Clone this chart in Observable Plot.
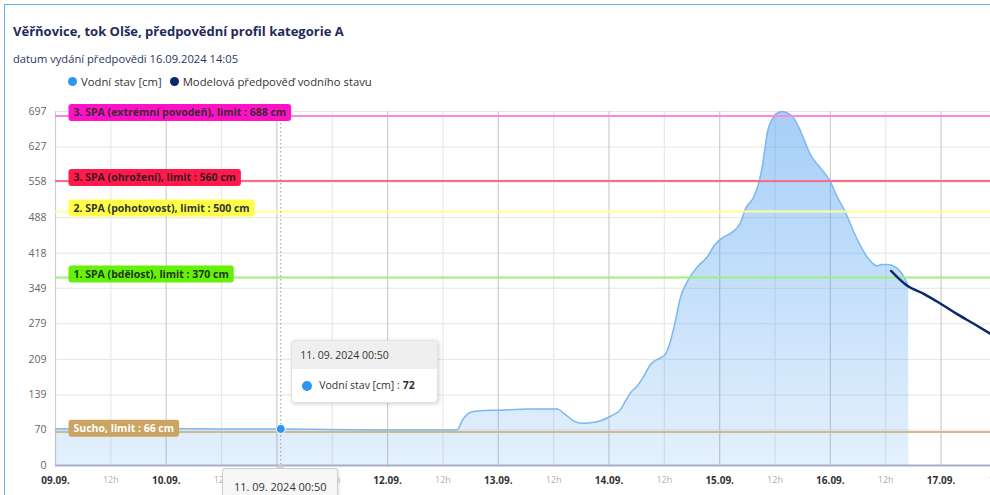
<!DOCTYPE html>
<html><head><meta charset="utf-8">
<script src="https://cdn.jsdelivr.net/npm/d3@7"></script>
<script src="https://cdn.jsdelivr.net/npm/@observablehq/plot@0.6"></script>
<style>
html,body{margin:0;padding:0;background:#fff;overflow:hidden;width:990px;height:495px;font-family:"Open Sans",sans-serif;}
#frame{position:absolute;left:4px;top:4px;width:1200px;height:800px;border:1px solid #6aaee8;box-sizing:border-box;pointer-events:none;z-index:9}
#title{position:absolute;left:13px;top:22px;font-size:13px;font-weight:700;color:#1f2a5c;white-space:nowrap}
#subtitle{position:absolute;left:13px;top:51px;font-size:11.2px;color:#2b3563;white-space:nowrap}
#legend{position:absolute;left:68px;top:74px;font-size:11.3px;color:#333;white-space:nowrap;display:flex;align-items:center}
#legend .item{display:flex;align-items:center;margin-right:8px}
#legend .sw{display:inline-block;width:9px;height:9px;border-radius:50%;margin-right:4px}
#chart{position:absolute;left:0;top:95px}
#tip{position:absolute;width:145px;background:#fff;border:1px solid #e2e2e2;border-radius:4px;box-shadow:1px 1px 4px rgba(0,0,0,0.18);font-size:10.5px;color:#333;overflow:hidden;z-index:5}
#tip .hd{background:#efefef;height:28px;line-height:28px;padding-left:8px}
#tip .bd{height:33px;line-height:33px;padding-left:10px;display:flex;align-items:center}
#tip .dot{display:inline-block;width:10px;height:10px;border-radius:50%;background:#2f95f0;margin-right:7px}
#tip b{margin-left:3px}
#xlab{position:absolute;width:114px;height:30px;background:#f6f6f6;border:1px solid #cfcfcf;border-radius:3px;box-shadow:1px 1px 3px rgba(0,0,0,0.12);font-size:11px;color:#333;text-align:center;line-height:36px;z-index:5}
#xlab:before{content:"";position:absolute;left:50%;top:-5px;margin-left:-5px;border-left:5px solid transparent;border-right:5px solid transparent;border-bottom:5px solid #cfcfcf}
</style></head>
<body>
<div id="frame"></div>
<div id="title">Věřňovice, tok Olše, předpovědní profil kategorie A</div>
<div id="subtitle">datum vydání předpovědi 16.09.2024 14:05</div>
<div id="legend"></div>
<div id="chart"></div>
<div id="tip"><div class="hd"></div><div class="bd"><span class="dot"></span><span class="nm"></span><b></b></div></div>
<div id="xlab"></div>
<script>
// ---------- data ----------
const seriesNames = ["Vodní stav [cm]", "Modelová předpověď vodního stavu"];
const waterTimes = [
"2024-09-09 00:00","2024-09-09 12:00","2024-09-10 00:00","2024-09-10 12:00","2024-09-11 00:50",
"2024-09-11 12:00","2024-09-12 00:00","2024-09-12 12:00","2024-09-12 15:05","2024-09-12 16:15",
"2024-09-12 18:20","2024-09-12 20:10","2024-09-13 00:00","2024-09-13 07:00","2024-09-13 12:45",
"2024-09-13 14:35","2024-09-13 16:20","2024-09-13 18:10","2024-09-13 20:00","2024-09-13 22:10",
"2024-09-14 00:20","2024-09-14 02:30","2024-09-14 03:35","2024-09-14 04:40","2024-09-14 06:05",
"2024-09-14 07:30","2024-09-14 09:00","2024-09-14 11:10","2024-09-14 12:15","2024-09-14 13:20",
"2024-09-14 14:25","2024-09-14 15:30","2024-09-14 16:55","2024-09-14 19:10","2024-09-14 21:15",
"2024-09-14 23:05","2024-09-15 00:55","2024-09-15 02:20","2024-09-15 04:30","2024-09-15 05:35",
"2024-09-15 07:25","2024-09-15 08:30","2024-09-15 09:15","2024-09-15 09:45","2024-09-15 10:20",
"2024-09-15 11:20","2024-09-15 12:20","2024-09-15 13:40","2024-09-15 14:40","2024-09-15 16:05",
"2024-09-15 17:30","2024-09-15 19:40","2024-09-15 21:50","2024-09-16 00:00","2024-09-16 01:25",
"2024-09-16 02:55","2024-09-16 05:50","2024-09-16 08:00","2024-09-16 10:10","2024-09-16 11:05",
"2024-09-16 12:20","2024-09-16 14:30","2024-09-16 15:55","2024-09-16 17:00"];
const waterValues = [
72,73,73,72,72,
71,70,70,70,90,
106,108,109,111,111,
100,88,83,84,88,
97,110,127,143,156,
175,199,212,219,245,
285,331,361,391,410,
436,450,457,478,505,
529,557,589,620,655,
681,693,697,694,684,
659,612,586,559,530,
505,445,410,393,396,
396,388,372,351];
const forecastTimes = ["2024-09-16 13:10","2024-09-16 14:30","2024-09-16 16:40","2024-09-16 20:15",
"2024-09-17 00:00","2024-09-17 03:30","2024-09-17 07:05","2024-09-17 10:45"];
const forecastValues = [383,371,354,338,318,298,279,259];
const limitValues = [688, 560, 500, 370, 66];
const limitLabels = ["3. SPA (extrémní povodeň), limit : 688 cm","3. SPA (ohrožení), limit : 560 cm",
"2. SPA (pohotovost), limit : 500 cm","1. SPA (bdělost), limit : 370 cm","Sucho, limit : 66 cm"];
const yTicks = [0,70,139,209,279,349,418,488,558,627,697];
const dayTicks = ["2024-09-09 00:00","2024-09-10 00:00","2024-09-11 00:00","2024-09-12 00:00","2024-09-13 00:00",
"2024-09-14 00:00","2024-09-15 00:00","2024-09-16 00:00","2024-09-17 00:00"];
const halfDayTicks = ["2024-09-09 12:00","2024-09-10 12:00","2024-09-11 12:00","2024-09-12 12:00","2024-09-13 12:00",
"2024-09-14 12:00","2024-09-15 12:00","2024-09-16 12:00","2024-09-17 12:00"];
const halfDayLabel = "12h";
const xDomain = ["2024-09-09 00:00","2024-09-17 10:43"];
const yDomain = [0, 697];
const tooltipIndex = 4;

// ---------- styles ----------
const limitLineColors = ["#ff86da","#ff6a84","#ffff99","#9ef07a","#d4b88c"];
const limitBoxColors = ["#ff12c6","#ff1a4a","#ffff48","#66f00a","#c9a462"];
const limitTextColors = ["#3a2a33","#3a1a22","#333","#1e3a10","#ffffff"];
const waterColor = "#7db8f0", dotColor = "#2f95f0", forecastColor = "#0c2a6b";

// ---------- build ----------
const parse = d3.utcParse("%Y-%m-%d %H:%M");
const water = waterTimes.map((t,i)=>({date:parse(t), value:waterValues[i]}));
const forecast = forecastTimes.map((t,i)=>({date:parse(t), value:forecastValues[i]}));
const limits = limitValues.map((v,i)=>({value:v, label:limitLabels[i]}));
const days = dayTicks.map(parse), halfDays = halfDayTicks.map(parse);
const x0 = parse(xDomain[0]);
const tipPt = water[tooltipIndex];
// the day label under the crosshair label is hidden by it in the reference
const dayLabelTicks = days.filter(d => Math.abs(d - tipPt.date) > 6 * 3600e3);

// legend
const lg = document.getElementById("legend");
[[seriesNames[0], dotColor],[seriesNames[1], forecastColor]].forEach(([n,c])=>{
  const it = document.createElement("span"); it.className="item";
  it.innerHTML = `<span class="sw" style="background:${c}"></span><span></span>`;
  it.lastChild.textContent = n; lg.appendChild(it);
});

const plot = Plot.plot({
  width: 990, height: 400,
  marginLeft: 55, marginRight: 0, marginTop: 16, marginBottom: 30,
  style: {fontFamily: "Open Sans", background: "transparent", overflow: "visible"},
  x: {type: "utc", domain: xDomain.map(parse), axis: null},
  y: {domain: yDomain, axis: null},
  marks: [
    Plot.ruleY(yTicks, {stroke: "#e6e6e6", strokeWidth: 1}),
    Plot.ruleX(halfDays.filter(d => d <= parse(xDomain[1])), {stroke: "#e8e8e8", strokeWidth: 1.2}),
    Plot.ruleX(days, {stroke: "#cdcdcd", strokeWidth: 1.2}),
    Plot.areaY(water, {x: "date", y: "value", fill: "url(#waterGrad)", curve: "monotone-x"}),
    Plot.lineY(water, {x: "date", y: "value", stroke: waterColor, strokeWidth: 1.5, curve: "monotone-x"}),
    ...limits.map((l,i) => Plot.ruleY([l], {y: "value", stroke: limitLineColors[i], strokeWidth: 2})),
    Plot.lineY(forecast, {x: "date", y: "value", stroke: forecastColor, strokeWidth: 2.5, curve: "monotone-x", clip: true}),
    Plot.ruleY([0], {stroke: "#a7aecb", strokeWidth: 2}),
    Plot.ruleX([tipPt], {x: "date", stroke: "#9a9a9a", strokeWidth: 1, strokeDasharray: "1.5,2.5"}),
    Plot.dot([tipPt], {x: "date", y: "value", r: 4.5, fill: dotColor, stroke: "#fff", strokeWidth: 1}),
    ...limits.map((l,i) => Plot.text([l], {x: () => x0, y: "value", text: "label", textAnchor: "start",
        dx: 18, dy: -3, fill: limitTextColors[i], fontSize: 10.5, fontWeight: 700, className: "lim" + i})),
    Plot.axisY(yTicks, {anchor: "left", tickSize: 0, tickPadding: 9, fontSize: 10.5, color: "#666", label: null,
        tickFormat: d => String(d)}),
    Plot.axisX(dayLabelTicks, {anchor: "bottom", tickSize: 0, tickPadding: 11, fontSize: 10, fontWeight: 700, color: "#333",
        label: null, tickFormat: d3.utcFormat("%d.%m.")}),
    Plot.axisX(halfDays, {anchor: "bottom", tickSize: 0, tickPadding: 11, fontSize: 9, color: "#b0b0b0",
        label: null, tickFormat: () => halfDayLabel})
  ]
});
document.getElementById("chart").appendChild(plot);

// gradient for the area
const ns = "http://www.w3.org/2000/svg";
const defs = document.createElementNS(ns, "defs");
const grad = document.createElementNS(ns, "linearGradient");
grad.setAttribute("id","waterGrad"); grad.setAttribute("x1","0"); grad.setAttribute("y1","0");
grad.setAttribute("x2","0"); grad.setAttribute("y2","1");
[["0","0.46"],["1","0.14"]].forEach(([o,op])=>{
  const s = document.createElementNS(ns,"stop");
  s.setAttribute("offset",o); s.setAttribute("stop-color","#3d96f0"); s.setAttribute("stop-opacity",op);
  grad.appendChild(s);
});
defs.appendChild(grad);
plot.insertBefore(defs, plot.firstChild);

// label backgrounds
limits.forEach((l,i)=>{
  const g = plot.querySelector("g.lim" + i);
  if (!g) return;
  g.querySelectorAll("text").forEach(t=>{
    const b = t.getBBox();
    const r = document.createElementNS(ns,"rect");
    const cy = b.y + b.height/2;
    r.setAttribute("x", b.x - 5); r.setAttribute("y", cy - 8.5);
    r.setAttribute("width", b.width + 10); r.setAttribute("height", 17);
    r.setAttribute("rx", 3); r.setAttribute("fill", limitBoxColors[i]);
    if (t.getAttribute("transform")) r.setAttribute("transform", t.getAttribute("transform"));
    t.parentNode.insertBefore(r, t);
  });
});

// tooltip & crosshair label
const sx = plot.scale("x"), sy = plot.scale("y");
const px = sx.apply(tipPt.date), py = sy.apply(tipPt.value) + 95;
const fmt = d3.utcFormat("%d. %m. %Y %H:%M");
const tip = document.getElementById("tip");
tip.querySelector(".hd").textContent = fmt(tipPt.date);
tip.querySelector(".nm").textContent = seriesNames[0] + " : ";
tip.querySelector("b").textContent = tipPt.value;
tip.style.left = (px + 11) + "px";
tip.style.top = (py - 88) + "px";
const xl = document.getElementById("xlab");
xl.textContent = fmt(tipPt.date);
xl.style.left = (px - 58) + "px";
xl.style.top = (sy.apply(0) + 95 + 3) + "px";
</script>
</body></html>
